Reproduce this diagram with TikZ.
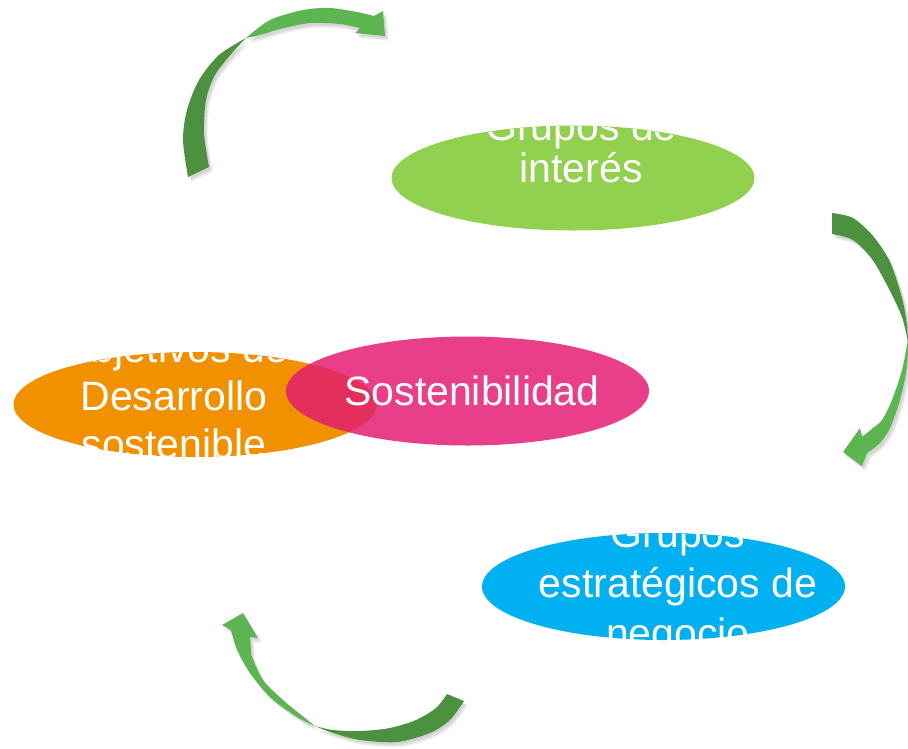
\documentclass[tikz,border=0pt]{standalone}
\usepackage{fontspec}
\setmainfont{Liberation Sans}
\definecolor{cgreen}{HTML}{92D050}
\definecolor{corange}{HTML}{F29100}
\definecolor{cpink}{HTML}{E93F8A}
\definecolor{cover}{HTML}{E42F5D}
\definecolor{cblue}{HTML}{00B0F0}
\definecolor{adark}{HTML}{4B9140}
\definecolor{alight}{HTML}{5DB552}
\begin{document}
\begin{tikzpicture}[x=1pt,y=-1pt,
  lbl/.style={anchor=base,text=white,inner sep=0pt,font=\fontsize{41}{47}\selectfont},
  arrdark/.style={fill=adark},
  arrlight/.style={fill=alight},
  shad/.style={fill=black,opacity=0.045}]
\useasboundingbox (0,0) rectangle (908,748);

% ---------- arrows (shadow then body) ----------
\def\arrowA{plot[smooth] coordinates {(188,177) (183,140) (187,110) (199,80) (219,55) (246,38)} -- plot[smooth] coordinates {(246,38) (232,53) (215,75) (206,100) (204,133) (209,167)} -- cycle}
\def\arrowAh{(246,38) -- plot[smooth] coordinates {(246,38) (270,20) (303,10) (330,8) (357,12) (374,16)} -- (383,11) -- (385,36) -- (355,33) -- plot[smooth] coordinates {(360,28) (340,24) (310,23) (280,29) (260,35) (246,38)} -- cycle}
\def\arrowB{(832,213) -- plot[smooth] coordinates {(832,213) (853,218) (873,236) (890,262) (902,298) (907,325) (908,342)} -- plot[smooth] coordinates {(908,342) (902,317) (889,289) (872,259) (853,240) (832,234)} -- cycle}
\def\arrowBh{(908,340) -- plot[smooth] coordinates {(908,340) (907,367) (900,400) (890,428) (880,443) (867,453)} -- (862,466) -- (843,452) -- (860,428) -- plot[smooth] coordinates {(862,437) (873,428) (882,420) (892,400) (902,370) (907,345)} -- cycle}
\def\arrowC{(447,694) -- (464,701) -- plot[smooth] coordinates {(464,701) (450,720) (430,733) (397,742) (360,740) (333,733) (315,726)} -- plot[smooth] coordinates {(315,726) (333,730) (360,731) (390,728) (416,720) (436,708) (447,694)} -- cycle}
\def\arrowCh{(315,726) -- plot[smooth] coordinates {(315,726) (297,717) (270,697) (250,673) (237,650) (231,630)} -- (222,625) -- (243,613) -- (258,638) -- plot[smooth] coordinates {(250,637) (251,650) (252,657) (263,680) (283,700) (300,714) (315,726)} -- cycle}

\foreach \s in {1,2,3,4}{
\begin{scope}[shift={(1+0.7*\s,1.5+0.9*\s)}]
  \fill[shad] \arrowA; \fill[shad] \arrowAh;
  \fill[shad] \arrowB; \fill[shad] \arrowBh;
  \fill[shad] \arrowC; \fill[shad] \arrowCh;
\end{scope}}
\fill[arrdark] \arrowA;  \fill[arrlight] \arrowAh;
\fill[arrdark] \arrowB;  \fill[arrlight] \arrowBh;
\fill[arrdark] \arrowC;  \fill[arrlight] \arrowCh;

% ---------- green ellipse ----------
\fill[cgreen] (573,178) ellipse [x radius=181.5pt, y radius=52.5pt];
\begin{scope}
  \clip (573,178) ellipse [x radius=181.5pt, y radius=52.5pt];
  \node[lbl] (g1) at (581,140) {Grupos de};
  \node[lbl] (g2) at (581,182) {interés};
\end{scope}

% ---------- orange ellipse ----------
\fill[corange] (195,404.5) ellipse [x radius=181.5pt, y radius=52.5pt];
\begin{scope}
  \clip (195,404.5) ellipse [x radius=181.5pt, y radius=52.5pt];
  \node[lbl] (o1) at (174,362) {Objetivos de};
  \node[lbl] (o2) at (174,410) {Desarrollo};
  \node[lbl] (o3) at (174,458) {sostenible};
\end{scope}

% ---------- pink ellipse ----------
\fill[cpink] (467.5,391) ellipse [x radius=181.5pt, y radius=54.5pt];
\begin{scope}
  \clip (195,404.5) ellipse [x radius=181.5pt, y radius=52.5pt];
  \fill[cover] (467.5,391) ellipse [x radius=181.5pt, y radius=54.5pt];
\end{scope}
\begin{scope}
  \clip (467.5,391) ellipse [x radius=181.5pt, y radius=54.5pt];
  \node[lbl] (p1) at (472,405) {Sostenibilidad};
\end{scope}

% ---------- blue ellipse ----------
\fill[cblue] (663.5,586.5) ellipse [x radius=181.5pt, y radius=53.5pt];
\begin{scope}
  \clip (663.5,586.5) ellipse [x radius=181.5pt, y radius=53.5pt];
  \node[lbl] (b1) at (678,547) {Grupos};
  \node[lbl] (b2) at (678,597) {estratégicos de};
  \node[lbl] (b3) at (678,647) {negocio};
\end{scope}
\end{tikzpicture}
\end{document}
